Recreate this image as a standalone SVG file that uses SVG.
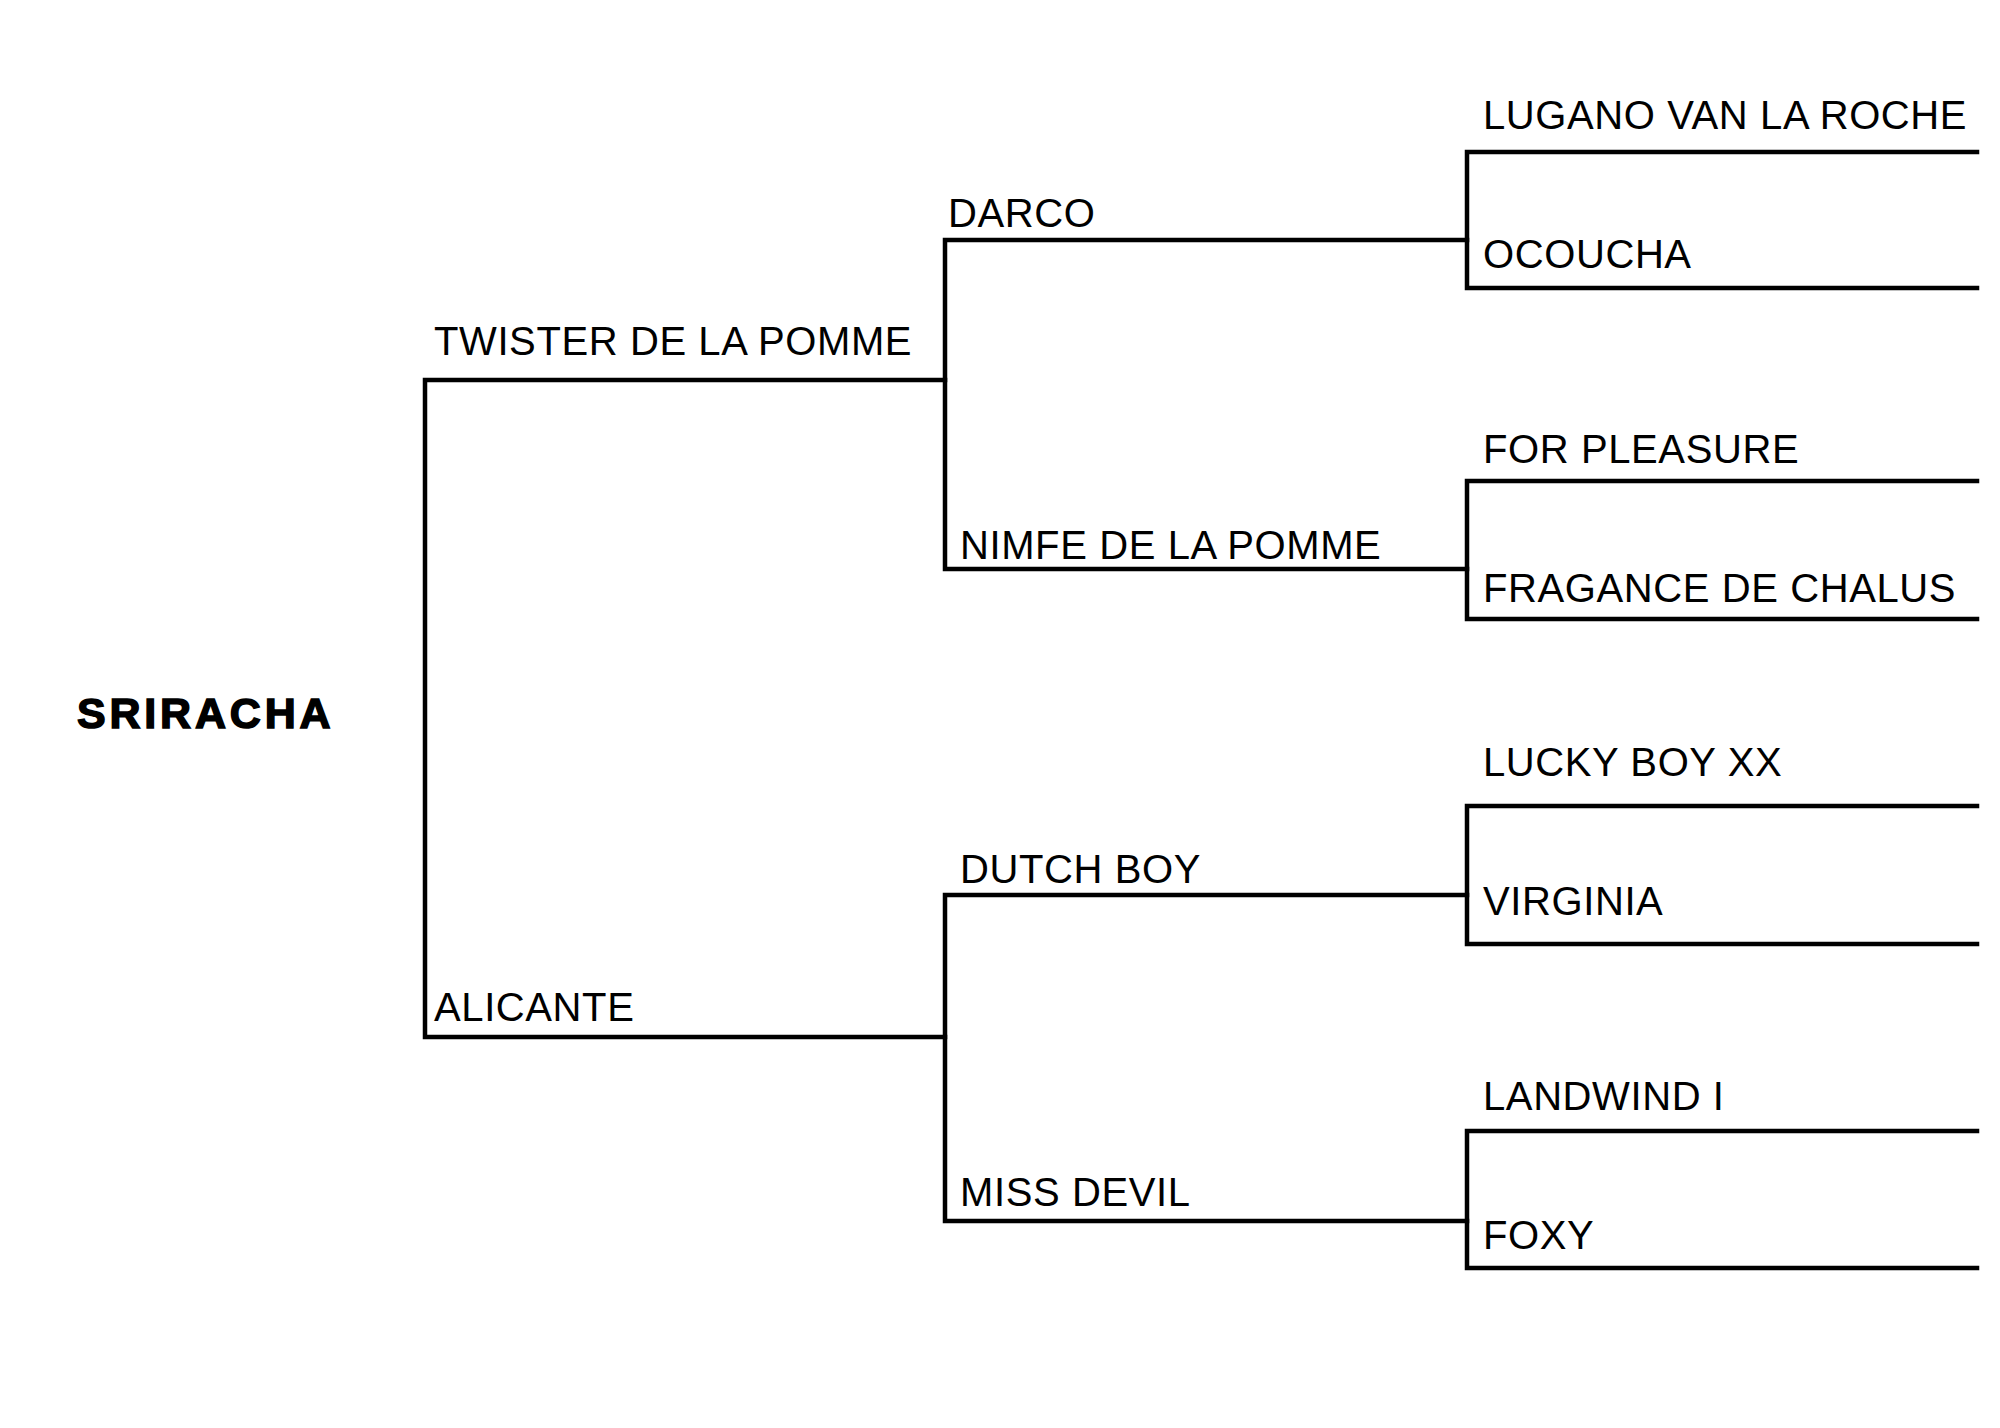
<svg xmlns="http://www.w3.org/2000/svg" width="2000" height="1428" viewBox="0 0 2000 1428">
<style>
.t{font-family:"Liberation Sans",Arial,sans-serif;font-size:40px;letter-spacing:0.6px;fill:#000}
.r{font-family:"Liberation Sans",Arial,sans-serif;font-size:43px;font-weight:bold;fill:#000;stroke:#000;stroke-width:1.5px;letter-spacing:3.8px}
.c{stroke:#000;stroke-width:4.5;fill:none;stroke-linecap:square}
</style>
<rect width="2000" height="1428" fill="#fff"/>
<g id="connectors" class="c">
<path d="M425 380V1037M425 380H945M425 1037H945"/>
<path d="M945 240V569M945 240H1467M945 569H1467"/>
<path d="M945 895V1221M945 895H1467M945 1221H1467"/>
<path d="M1467 152V288M1467 152H1977M1467 288H1977"/>
<path d="M1467 481V619M1467 481H1977M1467 619H1977"/>
<path d="M1467 806V944M1467 806H1977M1467 944H1977"/>
<path d="M1467 1131V1268M1467 1131H1977M1467 1268H1977"/>
</g>
<g id="n0"><text class="r" x="77" y="728">SRIRACHA</text></g>
<g id="n1"><text class="t" x="434" y="355">TWISTER DE LA POMME</text></g>
<g id="n2"><text class="t" x="434" y="1021">ALICANTE</text></g>
<g id="n3"><text class="t" x="948" y="227">DARCO</text></g>
<g id="n4"><text class="t" x="960" y="559">NIMFE DE LA POMME</text></g>
<g id="n5"><text class="t" x="960" y="883">DUTCH BOY</text></g>
<g id="n6"><text class="t" x="960" y="1206">MISS DEVIL</text></g>
<g id="n7"><text class="t" x="1483" y="129">LUGANO VAN LA ROCHE</text></g>
<g id="n8"><text class="t" x="1483" y="268">OCOUCHA</text></g>
<g id="n9"><text class="t" x="1483" y="463">FOR PLEASURE</text></g>
<g id="n10"><text class="t" x="1483" y="602">FRAGANCE DE CHALUS</text></g>
<g id="n11"><text class="t" x="1483" y="776">LUCKY BOY XX</text></g>
<g id="n12"><text class="t" x="1483" y="915">VIRGINIA</text></g>
<g id="n13"><text class="t" x="1483" y="1110">LANDWIND I</text></g>
<g id="n14"><text class="t" x="1483" y="1249">FOXY</text></g>
</svg>
